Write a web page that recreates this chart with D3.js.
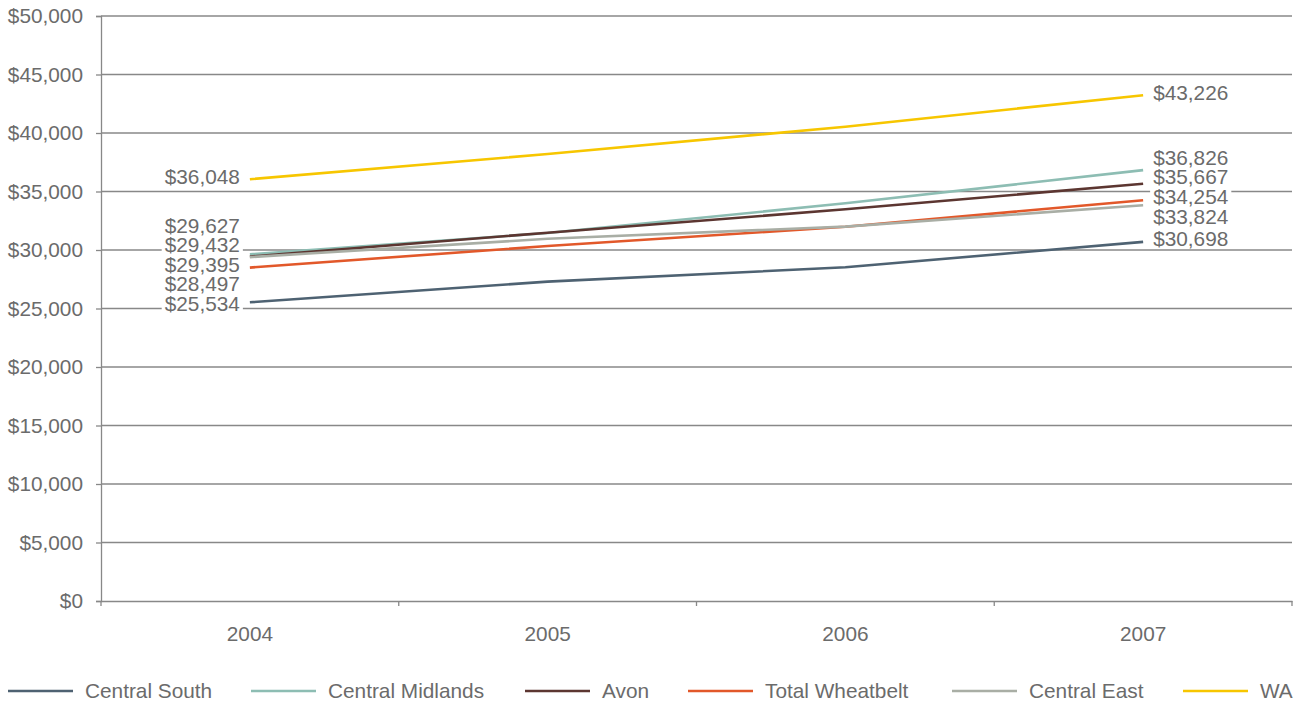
<!DOCTYPE html>
<html>
<head>
<meta charset="utf-8">
<script src="https://cdn.jsdelivr.net/npm/d3@7/dist/d3.min.js"></script>
<style>
  html, body { margin: 0; padding: 0; background: #fff; }
  svg { display: block; font-family: "Liberation Sans", Arial, sans-serif; }
</style>
</head>
<body>
<svg id="chart" width="1299" height="704"></svg>
<script>
// Average income by region, 2004–2007
const years = ["2004", "2005", "2006", "2007"];
const seriesNames = ["Central South", "Central Midlands", "Avon", "Total Wheatbelt", "Central East", "WA"];
const centralSouth    = [25534, 27300, 28520, 30698];
const centralMidlands = [29627, 31450, 33990, 36826];
const avon            = [29432, 31480, 33480, 35667];
const totalWheatbelt  = [28497, 30340, 31990, 34254];
const centralEast     = [29395, 30960, 32000, 33824];
const wa              = [36048, 38200, 40540, 43226];
const seriesColors = ["#4e6272", "#8dbdb3", "#5c3631", "#e2582a", "#a9aea5", "#f7c600"];
const yTicks = [0, 5000, 10000, 15000, 20000, 25000, 30000, 35000, 40000, 45000, 50000];

const seriesValues = [centralSouth, centralMidlands, avon, totalWheatbelt, centralEast, wa];
const series = seriesNames.map((name, i) => ({ name, color: seriesColors[i], values: seriesValues[i] }));

const textColor = "#6b6b6b";
const gridColor = "#888888";
const fontSize = 20.8;
const plot = { left: 101, right: 1292, top: 16, bottom: 601 };

const svg = d3.select("#chart");
const x = d3.scaleBand().domain(years).range([plot.left, plot.right]).padding(0);
const xc = d => x(d) + x.bandwidth() / 2;
const y = d3.scaleLinear().domain([0, 50000]).range([plot.bottom, plot.top]);
const fmt = v => "$" + d3.format(",")(v);

// Horizontal gridlines
svg.append("g").selectAll("line").data(yTicks.filter(t => t > 0)).join("line")
  .attr("x1", plot.left).attr("x2", plot.right)
  .attr("y1", d => y(d)).attr("y2", d => y(d))
  .attr("stroke", gridColor).attr("stroke-width", 1.3);

// Y axis
const yAxis = svg.append("g").attr("transform", `translate(${plot.left},0)`)
  .call(d3.axisLeft(y).tickValues(yTicks).tickFormat(fmt).tickSize(5).tickPadding(13));
yAxis.select(".domain").attr("stroke", gridColor).attr("stroke-width", 1.3);
yAxis.selectAll(".tick line").attr("stroke", gridColor).attr("stroke-width", 1.3);
yAxis.selectAll(".tick text").attr("fill", textColor).attr("font-size", fontSize)
  .attr("font-family", "Liberation Sans, Arial, sans-serif");

// X axis with ticks on category boundaries
const xAxis = svg.append("g").attr("transform", `translate(0,${plot.bottom})`)
  .call(d3.axisBottom(x).tickSize(0).tickPadding(25));
xAxis.select(".domain").attr("stroke", gridColor).attr("stroke-width", 1.3);
xAxis.selectAll(".tick text").attr("fill", textColor).attr("font-size", fontSize)
  .attr("font-family", "Liberation Sans, Arial, sans-serif");
const bounds = years.map(d => x(d)).concat([plot.right]);
svg.append("g").selectAll("line").data(bounds).join("line")
  .attr("x1", d => d).attr("x2", d => d)
  .attr("y1", plot.bottom).attr("y2", plot.bottom + 5)
  .attr("stroke", gridColor).attr("stroke-width", 1.3);

// Series lines
const line = d3.line().x((d, i) => xc(years[i])).y(d => y(d));
svg.append("g").selectAll("path").data(series).join("path")
  .attr("d", d => line(d.values))
  .attr("fill", "none")
  .attr("stroke", d => d.color)
  .attr("stroke-width", 2.6)
  .attr("stroke-linejoin", "round");

// Spread end labels vertically so they don't overlap
function spread(items, gap) {
  items.sort((a, b) => a.y0 - b.y0);
  items.forEach(d => d.y = d.y0);
  for (let iter = 0; iter < 500; iter++) {
    let moved = false;
    for (let i = 1; i < items.length; i++) {
      const a = items[i - 1], b = items[i];
      const overlap = gap - (b.y - a.y);
      if (overlap > 0.01) {
        a.y -= overlap / 2;
        b.y += overlap / 2;
        moved = true;
      }
    }
    if (!moved) break;
  }
  return items;
}

function endLabels(idx, anchor, xPos) {
  const items = spread(series.map(s => ({ v: s.values[idx], y0: y(s.values[idx]) - 3 })), 19.6);
  const g = svg.append("g");
  items.forEach(d => {
    const t = g.append("text")
      .attr("x", xPos).attr("y", d.y)
      .attr("dy", "0.35em")
      .attr("text-anchor", anchor)
      .attr("fill", textColor).attr("font-size", fontSize)
      .text(fmt(d.v));
    const bb = t.node().getBBox();
    g.insert("rect", "text")
      .attr("x", bb.x - 3).attr("y", d.y - 8)
      .attr("width", bb.width + 6).attr("height", 16)
      .attr("fill", "#fff");
  });
}
endLabels(0, "end", xc(years[0]) - 10);
endLabels(years.length - 1, "start", xc(years[years.length - 1]) + 10);

// Legend
const legendY = 691;
const legendX = [8, 251, 525, 688, 952, 1183];
const lg = svg.append("g").selectAll("g").data(series).join("g")
  .attr("transform", (d, i) => `translate(${legendX[i]},${legendY})`);
lg.append("line").attr("x1", 0).attr("x2", 65).attr("y1", 0).attr("y2", 0)
  .attr("stroke", d => d.color).attr("stroke-width", 2.6);
lg.append("text").attr("x", 77).attr("dy", "0.35em")
  .attr("fill", textColor).attr("font-size", fontSize)
  .text(d => d.name);
</script>
</body>
</html>
